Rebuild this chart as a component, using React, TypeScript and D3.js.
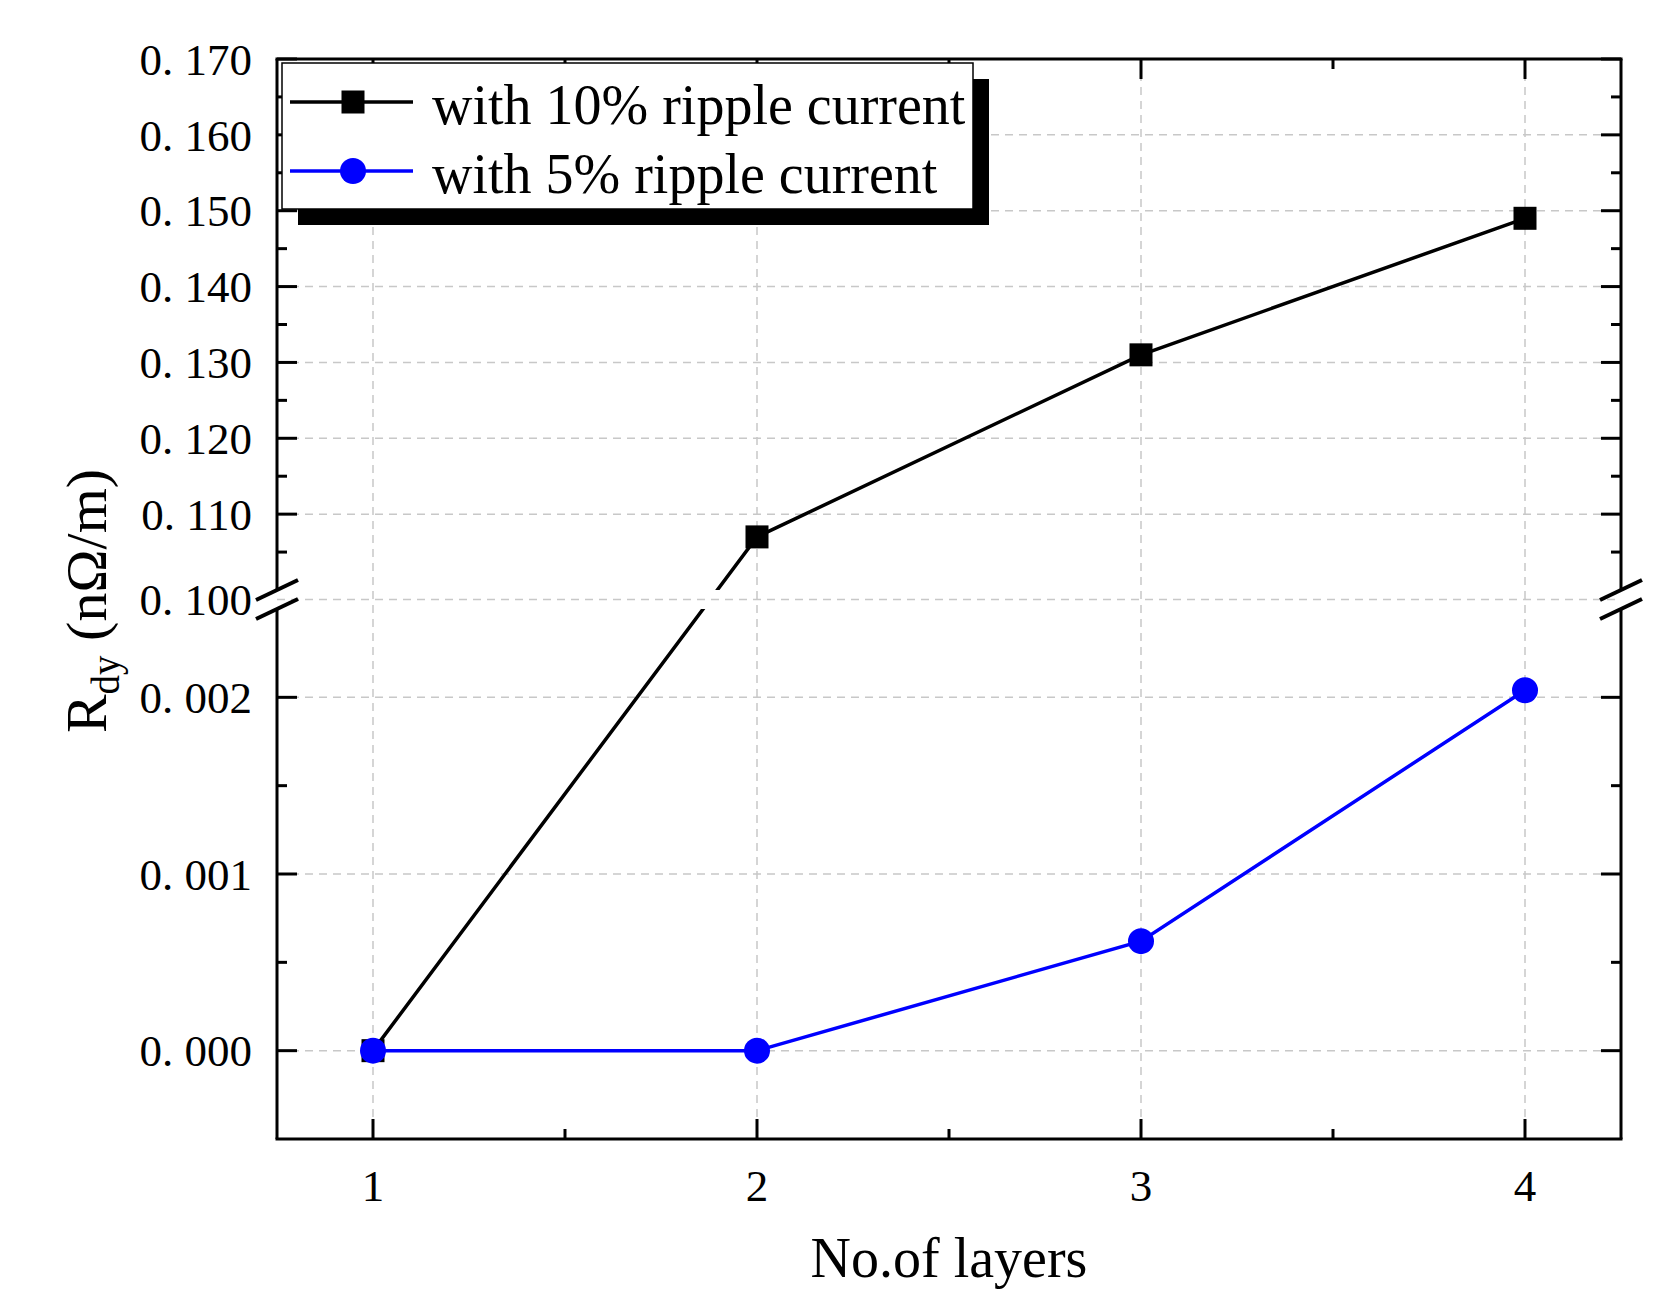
import { useEffect, useRef } from "react";
import * as d3 from "d3";

const layers = [1, 2, 3, 4];
const ripple10 = [0, 0.107, 0.131, 0.149];
const ripple5 = [0, 0, 0.00062, 0.00204];
const seriesNames = ["with 10% ripple current", "with 5% ripple current"];

const upperTicks = [0.11, 0.12, 0.13, 0.14, 0.15, 0.16, 0.17];
const upperMinor = [0.105, 0.115, 0.125, 0.135, 0.145, 0.155, 0.165];
const lowerTicks = [0, 0.001, 0.002];
const lowerMinor = [0.0005, 0.0015];
const xMinor = [1.5, 2.5, 3.5];

const W = 1671;
const H = 1290;
const FONT = "'Liberation Serif', 'Times New Roman', serif";

const App = () => {
    const ref = useRef<SVGSVGElement | null>(null);

    useEffect(() => {
        const svg = d3.select(ref.current);
        svg.selectAll("*").remove();

        const left = 277, right = 1621, top = 59, bottom = 1139;
        const breakTop = 590, breakBot = 609;
        const breakMid = (breakTop + breakBot) / 2;

        const x = d3.scaleLinear().domain([0.75, 4.25]).range([left, right]);
        const yUp = d3.scaleLinear().domain([0.1, 0.17]).range([breakTop, top]);
        const yLow = d3.scaleLinear().domain([-0.0005, 0.0025]).range([bottom, breakBot]);
        const y = (v: number) => (v >= 0.1 ? yUp(v) : yLow(v));
        const fmt = (v: number) => d3.format(".3f")(v).replace(".", ". ");

        // clip paths for the two axis segments
        const defs = svg.append("defs");
        const clip = defs.append("clipPath").attr("id", "plotclip");
        clip.append("rect").attr("x", left).attr("y", top).attr("width", right - left).attr("height", breakTop - top);
        clip.append("rect").attr("x", left).attr("y", breakBot).attr("width", right - left).attr("height", bottom - breakBot);

        // grid
        const grid = svg.append("g")
            .attr("stroke", "#c8c8c8")
            .attr("stroke-width", 1.5)
            .attr("stroke-dasharray", "8,6");
        layers.forEach(v => {
            grid.append("line").attr("x1", x(v)).attr("x2", x(v)).attr("y1", top).attr("y2", bottom);
        });
        [...upperTicks.filter(v => v < 0.17).map(v => yUp(v)), breakMid, ...lowerTicks.map(v => yLow(v))].forEach(py => {
            grid.append("line").attr("x1", left).attr("x2", right).attr("y1", py).attr("y2", py);
        });

        // frame
        const axis = svg.append("g").attr("stroke", "#000").attr("stroke-width", 3).attr("fill", "none");
        axis.append("line").attr("x1", left - 1.5).attr("x2", right + 1.5).attr("y1", top).attr("y2", top);
        axis.append("line").attr("x1", left - 1.5).attr("x2", right + 1.5).attr("y1", bottom).attr("y2", bottom);
        [left, right].forEach(ax => {
            axis.append("line").attr("x1", ax).attr("x2", ax).attr("y1", top).attr("y2", breakTop);
            axis.append("line").attr("x1", ax).attr("x2", ax).attr("y1", breakBot).attr("y2", bottom);
        });

        // ticks
        const majLen = 20, minLen = 10;
        const yTick = (py: number, len: number) => {
            axis.append("line").attr("x1", left).attr("x2", left + len).attr("y1", py).attr("y2", py);
            axis.append("line").attr("x1", right).attr("x2", right - len).attr("y1", py).attr("y2", py);
        };
        upperTicks.forEach(v => yTick(yUp(v), majLen));
        upperMinor.forEach(v => yTick(yUp(v), minLen));
        lowerTicks.forEach(v => yTick(yLow(v), majLen));
        lowerMinor.forEach(v => yTick(yLow(v), minLen));
        const xTick = (v: number, len: number) => {
            axis.append("line").attr("x1", x(v)).attr("x2", x(v)).attr("y1", bottom).attr("y2", bottom - len);
            axis.append("line").attr("x1", x(v)).attr("x2", x(v)).attr("y1", top).attr("y2", top + len);
        };
        layers.forEach(v => xTick(v, majLen));
        xMinor.forEach(v => xTick(v, minLen));

        // break marks
        [left, right].forEach(ax => {
            [breakTop, breakBot].forEach(by => {
                axis.append("line")
                    .attr("x1", ax - 21).attr("y1", by + 10)
                    .attr("x2", ax + 21).attr("y2", by - 10)
                    .attr("stroke-width", 4);
            });
        });

        // tick labels
        const labels = svg.append("g").attr("font-family", FONT).attr("font-size", 45).attr("fill", "#000");
        upperTicks.forEach(v => {
            labels.append("text").attr("x", 252).attr("y", yUp(v)).attr("dy", "0.35em")
                .attr("text-anchor", "end").text(fmt(v));
        });
        labels.append("text").attr("x", 252).attr("y", breakMid).attr("dy", "0.35em")
            .attr("text-anchor", "end").text(fmt(0.1));
        lowerTicks.forEach(v => {
            labels.append("text").attr("x", 252).attr("y", yLow(v)).attr("dy", "0.35em")
                .attr("text-anchor", "end").text(fmt(v));
        });
        layers.forEach(v => {
            labels.append("text").attr("x", x(v)).attr("y", 1201)
                .attr("text-anchor", "middle").text(String(v));
        });

        // axis titles
        svg.append("text")
            .attr("x", (left + right) / 2).attr("y", 1277)
            .attr("text-anchor", "middle")
            .attr("font-family", FONT).attr("font-size", 56)
            .text("No.of layers");
        const yt = svg.append("text")
            .attr("transform", `translate(106, ${(top + bottom) / 2 + 2}) rotate(-90)`)
            .attr("text-anchor", "middle")
            .attr("font-family", FONT).attr("font-size", 58);
        yt.append("tspan").text("R");
        yt.append("tspan").attr("font-size", 39).attr("dy", 13).text("dy");
        yt.append("tspan").attr("dy", -13).text(" (n\u03A9/m)");

        // series
        const line = d3.line<[number, number]>().x(d => x(d[0])).y(d => y(d[1]));
        const data = svg.append("g").attr("clip-path", "url(#plotclip)");
        const s10 = layers.map((v, i) => [v, ripple10[i]] as [number, number]);
        const s5 = layers.map((v, i) => [v, ripple5[i]] as [number, number]);
        data.append("path").attr("d", line(s10)).attr("fill", "none").attr("stroke", "#000").attr("stroke-width", 3.5);
        const sq = 23, r = 13;
        svg.append("g").selectAll("rect").data(s10).enter().append("rect")
            .attr("x", d => x(d[0]) - sq / 2).attr("y", d => y(d[1]) - sq / 2)
            .attr("width", sq).attr("height", sq).attr("fill", "#000");
        data.append("path").attr("d", line(s5)).attr("fill", "none").attr("stroke", "#0000ff").attr("stroke-width", 3.5);
        svg.append("g").selectAll("circle").data(s5).enter().append("circle")
            .attr("cx", d => x(d[0])).attr("cy", d => y(d[1])).attr("r", r).attr("fill", "#0000ff");

        // legend
        const lx = 282, ly = 63, lw = 691, lh = 146;
        const lg = svg.append("g");
        lg.append("rect").attr("x", lx + 16).attr("y", ly + 16).attr("width", lw).attr("height", lh).attr("fill", "#000");
        lg.append("rect").attr("x", lx).attr("y", ly).attr("width", lw).attr("height", lh)
            .attr("fill", "#fff").attr("stroke", "#000").attr("stroke-width", 1.5);
        const rows = [102, 171];
        const colors = ["#000", "#0000ff"];
        rows.forEach((ry, i) => {
            lg.append("line").attr("x1", 290).attr("x2", 413).attr("y1", ry).attr("y2", ry)
                .attr("stroke", colors[i]).attr("stroke-width", 3.5);
            if (i === 0) {
                lg.append("rect").attr("x", 353 - sq / 2).attr("y", ry - sq / 2).attr("width", sq).attr("height", sq).attr("fill", colors[i]);
            } else {
                lg.append("circle").attr("cx", 353).attr("cy", ry).attr("r", r).attr("fill", colors[i]);
            }
            lg.append("text").attr("x", 432).attr("y", ry + 22)
                .attr("font-family", FONT).attr("font-size", 56)
                .text(seriesNames[i]);
        });
    }, []);

    return (
        <svg ref={ref} width={W} height={H}
            style={{ position: "absolute", left: 0, top: 0, background: "#fff" }} />
    );
};

export default App;
